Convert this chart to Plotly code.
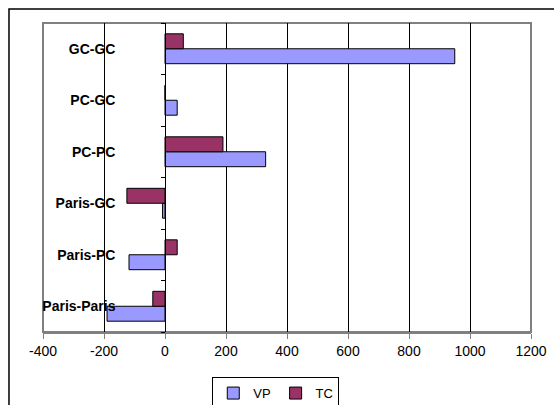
import plotly.graph_objects as go

categories = ["Paris-Paris", "Paris-PC", "Paris-GC", "PC-PC", "PC-GC", "GC-GC"]
vp_values = [-190, -118, -8, 330, 40, 950]
tc_values = [-40, 40, -125, 190, 0, 60]
x_ticks = [-400, -200, 0, 200, 400, 600, 800, 1000, 1200]

fig = go.Figure()
fig.add_trace(go.Bar(y=categories, x=vp_values, name="VP", orientation="h",
                     marker=dict(color="#9999FF", line=dict(color="black", width=1))))
fig.add_trace(go.Bar(y=categories, x=tc_values, name="TC", orientation="h",
                     marker=dict(color="#993366", line=dict(color="black", width=1))))

fig.update_layout(
    width=554, height=405,
    margin=dict(l=43, r=23, t=23, b=73, autoexpand=False),
    paper_bgcolor="white", plot_bgcolor="white",
    barmode="group", bargap=0.42, bargroupgap=0,
    font=dict(family="Liberation Sans, Arial, sans-serif", color="black"),
    showlegend=True,
    legend=dict(orientation="h", x=0.477, y=-0.146, xanchor="center", yanchor="top",
                bordercolor="black", borderwidth=1, font=dict(size=13),
                itemwidth=30, tracegroupgap=0),
    xaxis=dict(range=[-400, 1200], tickvals=x_ticks, ticktext=[str(v) for v in x_ticks],
               showgrid=True, gridcolor="black", gridwidth=1, automargin=False,
               zeroline=False, showline=True, linecolor="#808080", linewidth=2,
               ticks="outside", ticklen=5, tickcolor="#808080",
               tickfont=dict(size=14), fixedrange=True),
    yaxis=dict(categoryorder="array", categoryarray=categories,
               anchor="free", position=0.2506, automargin=False,
               showline=True, linecolor="black", linewidth=1,
               ticks="outside", ticklen=4, tickcolor="black", tickson="boundaries",
               showgrid=False, zeroline=False, fixedrange=True,
               tickfont=dict(size=14, family="Liberation Sans, Arial, sans-serif", weight="bold"),
               ticklabelstandoff=47),
)

# plot area border (gray) and outer chart border
fig.add_shape(type="rect", xref="paper", yref="paper", x0=0, y0=0, x1=1, y1=1,
              line=dict(color="#808080", width=2), layer="below")
fig.add_shape(type="rect", xref="paper", yref="paper", x0=-0.0697, y0=-0.4, x1=1.2, y1=1.045,
              line=dict(color="black", width=1.5))

fig.write_html("out.html", config={"displayModeBar": False},
               post_script="document.body.style.margin='0';document.body.style.overflow='hidden';")
